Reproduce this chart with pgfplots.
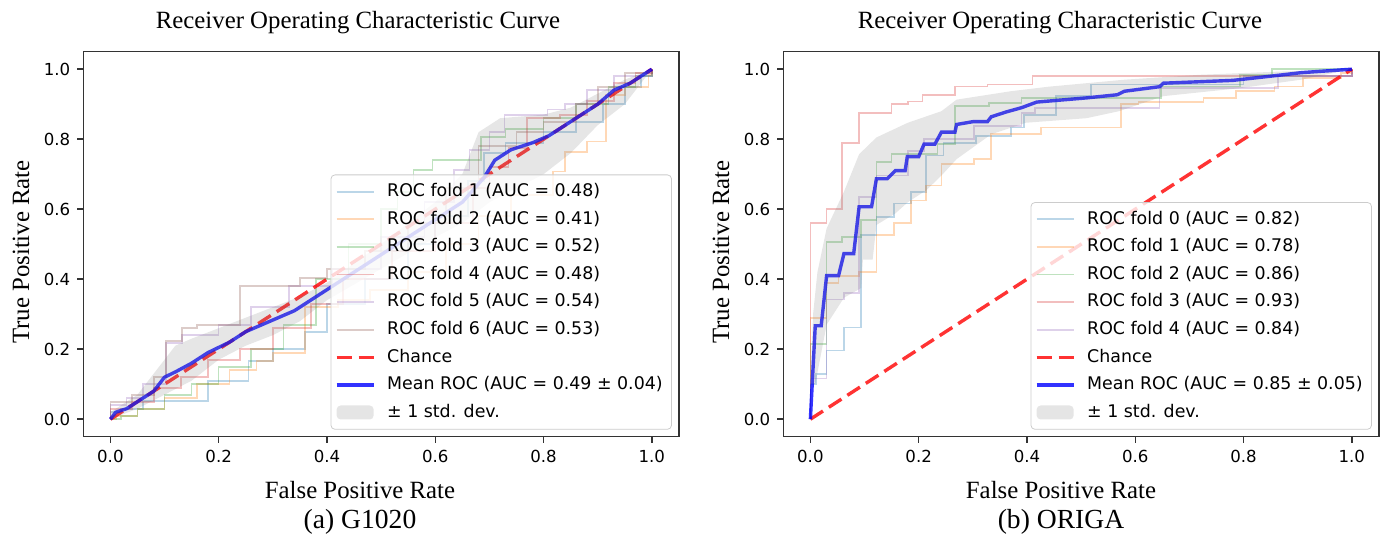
\documentclass[border=0pt]{standalone}
\usepackage{pgfplots}
\pgfplotsset{compat=1.18}
\usepackage{fontspec}
\setmainfont{Liberation Serif}
\newfontfamily\dejavu{DejaVu Sans}

\definecolor{c0}{HTML}{1F77B4}
\definecolor{c1}{HTML}{FF7F0E}
\definecolor{c2}{HTML}{2CA02C}
\definecolor{c3}{HTML}{D62728}
\definecolor{c4}{HTML}{9467BD}
\definecolor{c5}{HTML}{8C564B}

\pgfplotsset{
  rocaxis/.style={
    scale only axis, width=297.8pt, height=192.5pt,
    xmin=-0.05, xmax=1.05, ymin=-0.05, ymax=1.05,
    xtick={0,0.2,0.4,0.6,0.8,1}, ytick={0,0.2,0.4,0.6,0.8,1},
    xtick pos=bottom, ytick pos=left, tick align=outside,
    major tick length=3pt,
    axis line style={black!80, line width=0.7pt},
    tick style={black!80, line width=0.7pt},
    /pgf/number format/assume math mode=true,
    ticklabel style={font=\dejavu\fontsize{8.3}{10}\selectfont},
    xticklabel style={/pgf/number format/fixed, /pgf/number format/fixed zerofill, /pgf/number format/precision=1},
    yticklabel style={/pgf/number format/fixed, /pgf/number format/fixed zerofill, /pgf/number format/precision=1},
    legend cell align=left,
    legend style={at={(1,0)}, anchor=south east, xshift=-3.5pt, yshift=3.5pt,
      font=\dejavu\fontsize{8.7}{10}\selectfont,
      draw=black!20, fill=white, fill opacity=0.8, text opacity=1,
      rounded corners=2pt, inner xsep=2pt, inner ysep=1.5pt, row sep=0pt,
      column sep=3.5pt,
      nodes={inner sep=2.4pt, text height=6.9pt, text depth=2.1pt}},
    legend image code/.code={\draw[#1] (0pt,0pt) -- (18.5pt,0pt);},
  },
  fold/.style={const plot, line width=0.83pt, draw opacity=0.3},
  chance/.style={red, draw opacity=0.8, line width=1.7pt, dash pattern=on 7.5pt off 3.5pt},
  meanroc/.style={blue, draw opacity=0.8, line width=1.7pt},
  band/.style={fill=gray, fill opacity=0.2, draw=none,
    legend image code/.code={\fill[##1] (0pt,-3.5pt) rectangle (18.5pt,3.5pt);}},
}

\begin{document}
\begin{tikzpicture}
\path[use as bounding box] (0,0) rectangle (690.5pt,270pt);

% (a) G1020
\begin{axis}[rocaxis, at={(41.65pt,51.65pt)}, anchor=south west]
\addplot[fold, c0] coordinates {(0,0) (0,0.02) (0.02,0.03) (0.06,0.052) (0.18,0.11) (0.255,0.166) (0.3,0.2) (0.36,0.25) (0.4,0.33) (0.47,0.4) (0.55,0.5) (0.6,0.58) (0.66,0.68) (0.69,0.76) (0.73,0.79) (0.8,0.82) (0.86,0.85) (0.91,0.9) (0.95,0.95) (0.98,0.98) (1,1)};
\addlegendentry{ROC fold 1 (AUC = 0.48)}
\addplot[fold, c1] coordinates {(0,0) (0.01,0.01) (0.05,0.03) (0.1,0.06) (0.16,0.1) (0.22,0.14) (0.27,0.166) (0.3,0.19) (0.36,0.32) (0.42,0.34) (0.48,0.37) (0.55,0.42) (0.62,0.5) (0.68,0.58) (0.74,0.64) (0.818,0.708) (0.84,0.764) (0.88,0.793) (0.915,0.926) (0.95,0.95) (0.994,0.983) (1,1)};
\addlegendentry{ROC fold 2 (AUC = 0.41)}
\addplot[fold, c2] coordinates {(0,0) (0.02,0.01) (0.05,0.03) (0.1,0.07) (0.15,0.1) (0.2,0.15) (0.26,0.2) (0.32,0.27) (0.38,0.4) (0.44,0.5) (0.5,0.6) (0.53,0.65) (0.56,0.712) (0.595,0.74) (0.685,0.807) (0.73,0.83) (0.8,0.86) (0.86,0.9) (0.92,0.95) (0.97,0.98) (1,1)};
\addlegendentry{ROC fold 3 (AUC = 0.52)}
\addplot[fold, c3] coordinates {(0,0) (0,0.03) (0.04,0.05) (0.08,0.09) (0.13,0.12) (0.18,0.17) (0.24,0.2) (0.3,0.26) (0.37,0.33) (0.43,0.4) (0.52,0.48) (0.6,0.56) (0.67,0.66) (0.7,0.72) (0.735,0.774) (0.77,0.86) (0.83,0.87) (0.88,0.91) (0.93,0.96) (0.97,0.99) (1,1)};
\addlegendentry{ROC fold 4 (AUC = 0.48)}
\addplot[fold, c4] coordinates {(0,0) (0,0.04) (0.03,0.06) (0.06,0.1) (0.103,0.218) (0.132,0.24) (0.2,0.27) (0.26,0.32) (0.33,0.38) (0.41,0.43) (0.5,0.52) (0.58,0.62) (0.635,0.712) (0.663,0.77) (0.7,0.82) (0.728,0.87) (0.807,0.885) (0.84,0.9) (0.88,0.94) (0.93,0.98) (1,1)};
\addlegendentry{ROC fold 5 (AUC = 0.54)}
\addplot[fold, c5] coordinates {(0,0) (0,0.05) (0.04,0.07) (0.08,0.12) (0.103,0.223) (0.132,0.26) (0.16,0.27) (0.24,0.38) (0.35,0.404) (0.4,0.43) (0.47,0.48) (0.55,0.56) (0.62,0.66) (0.68,0.78) (0.75,0.82) (0.8,0.85) (0.86,0.9) (0.9,0.95) (0.95,0.99) (1,1)};
\addlegendentry{ROC fold 6 (AUC = 0.53)}
\addplot[chance] coordinates {(0,0) (1,1)};
\addlegendentry{Chance}
\addplot[meanroc] coordinates {(0,0) (0.01,0.02) (0.03,0.03) (0.06,0.06) (0.08,0.08) (0.1,0.12) (0.12,0.135) (0.15,0.16) (0.18,0.19) (0.22,0.22) (0.25,0.25) (0.28,0.27) (0.31,0.29) (0.34,0.31) (0.37,0.34) (0.4,0.37) (0.45,0.42) (0.5,0.47) (0.55,0.52) (0.6,0.57) (0.65,0.62) (0.69,0.69) (0.71,0.74) (0.74,0.77) (0.78,0.79) (0.81,0.81) (0.84,0.84) (0.87,0.87) (0.9,0.9) (0.93,0.94) (0.96,0.96) (0.98,0.98) (1,1)};
\addlegendentry{Mean ROC (AUC = 0.49 ± 0.04)}
\addplot[band] coordinates {(0,0.02) (0.05,0.07) (0.1,0.17) (0.12,0.21) (0.15,0.23) (0.2,0.26) (0.25,0.29) (0.3,0.32) (0.35,0.35) (0.4,0.39) (0.5,0.5) (0.6,0.62) (0.65,0.7) (0.68,0.82) (0.72,0.86) (0.8,0.87) (0.85,0.89) (0.9,0.93) (0.95,0.97) (1,1)
  (0.95,0.9) (0.9,0.84) (0.85,0.76) (0.8,0.7) (0.75,0.66) (0.7,0.62) (0.65,0.56) (0.6,0.52) (0.5,0.43) (0.4,0.34) (0.35,0.28) (0.3,0.24) (0.25,0.21) (0.2,0.17) (0.15,0.11) (0.1,0.07) (0.05,0.03) (0,0)};
\addlegendentry{± 1 std. dev.}
\end{axis}

% (b) ORIGA
\begin{axis}[rocaxis, at={(391.65pt,51.65pt)}, anchor=south west]
\addplot[fold, c0] coordinates {(0,0) (0,0.1) (0.01,0.13) (0.03,0.196) (0.062,0.262) (0.094,0.526) (0.122,0.578) (0.154,0.616) (0.186,0.649) (0.214,0.753) (0.246,0.79) (0.306,0.81) (0.37,0.833) (0.394,0.87) (0.454,0.923) (0.518,0.956) (0.8,0.98) (1,1)};
\addlegendentry{ROC fold 0 (AUC = 0.82)}
\addplot[fold, c1] coordinates {(0,0) (0,0.29) (0.03,0.39) (0.052,0.41) (0.09,0.42) (0.122,0.526) (0.154,0.56) (0.186,0.625) (0.214,0.668) (0.242,0.73) (0.302,0.743) (0.334,0.814) (0.426,0.833) (0.574,0.9) (0.606,0.906) (0.726,0.918) (0.786,0.937) (0.857,0.951) (0.91,0.974) (0.98,0.99) (1,1)};
\addlegendentry{ROC fold 1 (AUC = 0.78)}
\addplot[fold, c2] coordinates {(0,0) (0,0.215) (0.03,0.507) (0.059,0.52) (0.094,0.57) (0.122,0.734) (0.15,0.757) (0.235,0.786) (0.267,0.894) (0.33,0.904) (0.39,0.918) (0.648,0.951) (0.793,0.984) (0.853,1) (1,1)};
\addlegendentry{ROC fold 2 (AUC = 0.86)}
\addplot[fold, c3] coordinates {(0,0) (0,0.56) (0.03,0.6) (0.059,0.79) (0.09,0.875) (0.15,0.9) (0.18,0.908) (0.207,0.927) (0.267,0.951) (0.327,0.956) (0.41,0.98) (1,0.99) (1,1)};
\addlegendentry{ROC fold 3 (AUC = 0.93)}
\addplot[fold, c4] coordinates {(0,0) (0,0.116) (0.03,0.342) (0.062,0.36) (0.09,0.635) (0.122,0.696) (0.18,0.767) (0.21,0.8) (0.302,0.838) (0.39,0.875) (0.415,0.89) (0.645,0.946) (0.864,0.98) (1,1)};
\addlegendentry{ROC fold 4 (AUC = 0.84)}
\addplot[chance] coordinates {(0,0) (1,1)};
\addlegendentry{Chance}
\addplot[meanroc] coordinates {(0,0) (0.009,0.267) (0.02,0.267) (0.03,0.41) (0.052,0.41) (0.062,0.473) (0.08,0.473) (0.09,0.607) (0.113,0.607) (0.122,0.687) (0.142,0.687) (0.157,0.71) (0.175,0.71) (0.179,0.75) (0.2,0.75) (0.21,0.786) (0.23,0.786) (0.242,0.82) (0.267,0.82) (0.27,0.842) (0.3,0.85) (0.327,0.85) (0.334,0.864) (0.362,0.878) (0.39,0.89) (0.418,0.906) (0.51,0.918) (0.567,0.927) (0.58,0.937) (0.645,0.95) (0.652,0.96) (0.78,0.968) (0.85,0.98) (0.906,0.99) (1,1)};
\addlegendentry{Mean ROC (AUC = 0.85 ± 0.05)}
\addplot[band] coordinates {(0,0.1) (0.005,0.3) (0.013,0.42) (0.03,0.545) (0.062,0.65) (0.09,0.757) (0.122,0.805) (0.18,0.847) (0.242,0.88) (0.27,0.913) (0.37,0.937) (0.44,0.95) (0.58,0.97) (0.72,0.984) (0.864,0.993) (1,1)
  (0.906,0.97) (0.794,0.946) (0.652,0.923) (0.57,0.88) (0.51,0.86) (0.398,0.847) (0.334,0.814) (0.27,0.743) (0.242,0.696) (0.214,0.654) (0.18,0.62) (0.157,0.588) (0.122,0.555) (0.115,0.456) (0.097,0.456) (0.094,0.375) (0.062,0.347) (0.03,0.27) (0.009,0.1)};
\addlegendentry{± 1 std. dev.}
\end{axis}

% titles, axis labels and subcaptions
\node[anchor=base, font=\fontsize{12.4}{14}\selectfont] at (179pt,255.5pt) {Receiver Operating Characteristic Curve};
\node[anchor=base, font=\fontsize{12.4}{14}\selectfont] at (530pt,255.5pt) {Receiver Operating Characteristic Curve};
\node[anchor=base, font=\fontsize{12.4}{14}\selectfont] at (180pt,20.5pt) {False Positive Rate};
\node[anchor=base, font=\fontsize{12.4}{14}\selectfont] at (530.5pt,20.5pt) {False Positive Rate};
\node[anchor=base, rotate=90, font=\fontsize{12.4}{14}\selectfont] at (14.5pt,144pt) {True Positive Rate};
\node[anchor=base, rotate=90, font=\fontsize{12.4}{14}\selectfont] at (364.5pt,144pt) {True Positive Rate};
\node[anchor=base, font=\fontsize{13.8}{16}\selectfont] at (180pt,5.5pt) {(a) G1020};
\node[anchor=base, font=\fontsize{13.8}{16}\selectfont] at (530.5pt,5.5pt) {(b) ORIGA};
\end{tikzpicture}
\end{document}
